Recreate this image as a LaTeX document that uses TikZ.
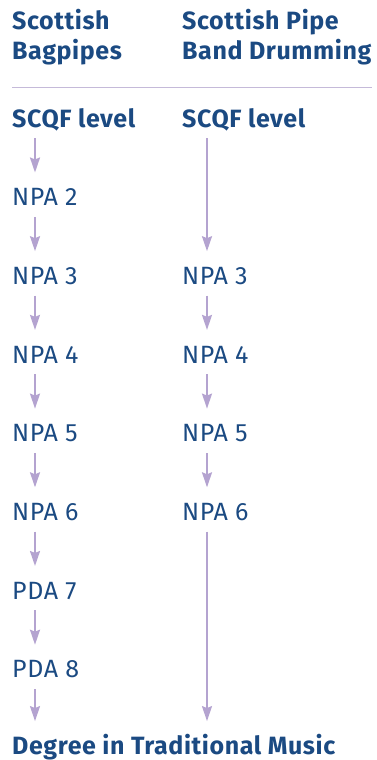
\documentclass[tikz,border=0pt]{standalone}
\usepackage{fontspec}
\setmainfont{Fira Sans}[LetterSpace=2.4]
\usepackage{tikz}
\usetikzlibrary{arrows.meta, positioning}
\usepackage{xcolor}
\definecolor{navy}{HTML}{1B4A82}
\definecolor{lilac}{HTML}{B4A3D0}
\definecolor{rulecol}{HTML}{C5BAD9}

\begin{document}
\begin{tikzpicture}[
x=1pt, y=1pt,
node distance=52.3pt,
head/.style={anchor=north west,
inner sep=0pt,
align=left,
text=navy,
font=\fontsize{25}{30}\selectfont\bfseries},
level/.style={anchor=base west,
inner sep=0pt,
text height=20pt,
text depth=6pt,
text=navy,
font=\fontsize{25}{30}\selectfont},
arrow/.style={-{Stealth[length=15pt, width=10pt, inset=2pt]}, line width=2pt, draw=lilac, shorten <=5pt, shorten >=13pt}
]
\useasboundingbox (0,0) rectangle (377,-760);

% column headings
\node[head] (hbp) at (12,-9) {Scottish\\Bagpipes};
\node[head] (hdr) at (182,-9) {Scottish Pipe\\Band Drumming};
\draw[rulecol, line width=1pt] (12,-87) -- (372,-87);

% bagpipes column
\node[level, font=\fontsize{25}{30}\selectfont\bfseries] (bp0) at (12,-127) {SCQF level};
\node[level, below=of bp0.south west, anchor=north west] (bp1) {NPA 2};
\node[level, below=of bp1.south west, anchor=north west] (bp2) {NPA 3};
\node[level, below=of bp2.south west, anchor=north west] (bp3) {NPA 4};
\node[level, below=of bp3.south west, anchor=north west] (bp4) {NPA 5};
\node[level, below=of bp4.south west, anchor=north west] (bp5) {NPA 6};
\node[level, below=of bp5.south west, anchor=north west] (bp6) {PDA 7};
\node[level, below=of bp6.south west, anchor=north west] (bp7) {PDA 8};
\node[level, below=50pt of bp7.south west, anchor=north west, font=\fontsize{25}{30}\selectfont\bfseries] (deg) {Degree in Traditional Music};

% drumming column
\node[level, font=\fontsize{25}{30}\selectfont\bfseries] (dr0) at (182,-127) {SCQF level};
\node[level] (dr1) at (bp2.base -| dr0.west) {NPA 3};
\node[level] (dr2) at (bp3.base -| dr0.west) {NPA 4};
\node[level] (dr3) at (bp4.base -| dr0.west) {NPA 5};
\node[level] (dr4) at (bp5.base -| dr0.west) {NPA 6};

\draw[arrow] ([xshift=23pt]bp0.south west) -- ([xshift=23pt]bp1.north west);
\draw[arrow] ([xshift=23pt]bp1.south west) -- ([xshift=23pt]bp2.north west);
\draw[arrow] ([xshift=23pt]bp2.south west) -- ([xshift=23pt]bp3.north west);
\draw[arrow] ([xshift=23pt]bp3.south west) -- ([xshift=23pt]bp4.north west);
\draw[arrow] ([xshift=23pt]bp4.south west) -- ([xshift=23pt]bp5.north west);
\draw[arrow] ([xshift=23pt]bp5.south west) -- ([xshift=23pt]bp6.north west);
\draw[arrow] ([xshift=23pt]bp6.south west) -- ([xshift=23pt]bp7.north west);
\draw[arrow] ([xshift=23pt]bp7.south west) -- ([xshift=23pt]deg.north west);

\draw[arrow] ([xshift=25pt]dr0.south west) -- ([xshift=25pt]dr1.north west);
\draw[arrow] ([xshift=25pt]dr1.south west) -- ([xshift=25pt]dr2.north west);
\draw[arrow] ([xshift=25pt]dr2.south west) -- ([xshift=25pt]dr3.north west);
\draw[arrow] ([xshift=25pt]dr3.south west) -- ([xshift=25pt]dr4.north west);
\draw[arrow] ([xshift=25pt]dr4.south west) -- ([xshift=25pt]dr4.west |- deg.north);

\end{tikzpicture}
\end{document}
